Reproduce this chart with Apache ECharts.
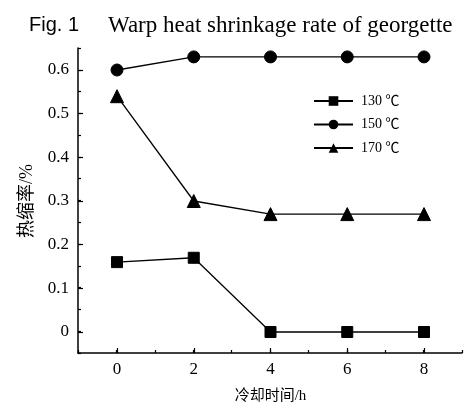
<!DOCTYPE html>
<html>
<head>
<meta charset="utf-8">
<script src="https://cdn.jsdelivr.net/npm/echarts@6/dist/echarts.min.js"></script>
<style>
  html, body { margin: 0; padding: 0; background: #fff; }
  #chart { width: 468px; height: 402px; }
</style>
</head>
<body>
<div id="chart"></div>
<script>
// Cooling time (h) and warp heat shrinkage (%) at three setting temperatures
const times = [0, 2, 4, 6, 8];
const series130 = [0.16, 0.17, 0, 0, 0];
const series150 = [0.60, 0.63, 0.63, 0.63, 0.63];
const series170 = [0.54, 0.30, 0.27, 0.27, 0.27];
const seriesNames = ['130 ℃', '150 ℃', '170 ℃'];
const seriesSymbols = ['rect', 'circle', 'triangle'];
const seriesSymbolSizes = [11, 12, 13];
const seriesValues = [series130, series150, series170];

const serif = '"Liberation Serif", "Times New Roman", "Noto Sans CJK SC", serif';
const black = '#000';

const chart = echarts.init(document.getElementById('chart'), null, { renderer: 'canvas' });

const isTenth = v => Math.abs(v * 10 - Math.round(v * 10)) < 1e-6;

chart.setOption({
  backgroundColor: '#fff',
  animation: false,
  title: {
    text: '{a|Fig. 1}{b|Warp heat shrinkage rate of georgette}',
    left: 29,
    top: 14,
    padding: 0,
    textStyle: {
      fontWeight: 'normal',
      rich: {
        a: { fontFamily: '"Liberation Sans", Arial, sans-serif', fontSize: 20, fontWeight: 'normal', color: black },
        b: { fontFamily: serif, fontSize: 23, fontWeight: 'normal', color: black, padding: [0, 0, 0, 29] }
      }
    }
  },
  legend: {
    orient: 'vertical',
    left: 308,
    top: 89,
    itemWidth: 39,
    itemHeight: 12,
    itemGap: 9.5,
    data: seriesNames,
    textStyle: { fontFamily: serif, fontSize: 14, color: black, padding: [0, 0, 0, 3] }
  },
  grid: [
    // frame grid: axis lines with minor ticks
    { left: 78, right: 6, top: 48, bottom: 49, outerBoundsMode: 'none' },
    // data grid: 0..8 h and 0..0.6 %
    { left: 117, right: 44, top: 70, bottom: 70, outerBoundsMode: 'none' }
  ],
  xAxis: [
    {
      gridIndex: 0, type: 'value', min: -1, max: 9, interval: 1,
      axisLine: { show: true, onZero: false, lineStyle: { color: black, width: 1.5 } },
      axisTick: { show: true, inside: true, length: 3, lineStyle: { color: black, width: 1.2 } },
      axisLabel: { show: false },
      splitLine: { show: false }
    },
    {
      gridIndex: 1, type: 'value', min: 0, max: 8, interval: 2, offset: 21,
      name: '冷却时间/h', nameLocation: 'middle', nameGap: 36,
      nameTextStyle: { fontFamily: serif, fontSize: 15, color: black },
      axisLine: { show: false, onZero: false },
      axisTick: { show: true, inside: true, length: 5, lineStyle: { color: black, width: 1.2 } },
      axisLabel: { margin: 8, fontFamily: serif, fontSize: 17, color: black },
      splitLine: { show: false }
    }
  ],
  yAxis: [
    {
      gridIndex: 0, type: 'value', min: -0.05, max: 0.65, interval: 0.05,
      axisLine: { show: true, onZero: false, lineStyle: { color: black, width: 1.5 } },
      axisTick: { show: true, inside: true, length: 3, lineStyle: { color: black, width: 1.2 } },
      axisLabel: { show: false },
      splitLine: { show: false }
    },
    {
      gridIndex: 1, type: 'value', min: 0, max: 0.6, interval: 0.1, offset: 39,
      name: '热缩率/%', nameLocation: 'middle', nameGap: 42, nameRotate: 90,
      nameTextStyle: { fontFamily: serif, fontSize: 18, color: black },
      axisLine: { show: false, onZero: false },
      axisTick: { show: true, inside: true, length: 5, lineStyle: { color: black, width: 1.2 } },
      axisLabel: {
        margin: 9, fontFamily: serif, fontSize: 17, color: black,
        formatter: v => (isTenth(v) ? (Math.round(v * 10) / 10).toString() : '')
      },
      splitLine: { show: false }
    }
  ],
  series: seriesNames.map((name, i) => ({
    name,
    type: 'line',
    xAxisIndex: 1,
    yAxisIndex: 1,
    data: times.map((t, k) => [t, seriesValues[i][k]]),
    symbol: seriesSymbols[i],
    symbolSize: seriesSymbolSizes[i],
    showAllSymbol: true,
    lineStyle: { color: black, width: 1.3 },
    itemStyle: { color: black, borderColor: black },
    clip: false
  }))
});
</script>
</body>
</html>
